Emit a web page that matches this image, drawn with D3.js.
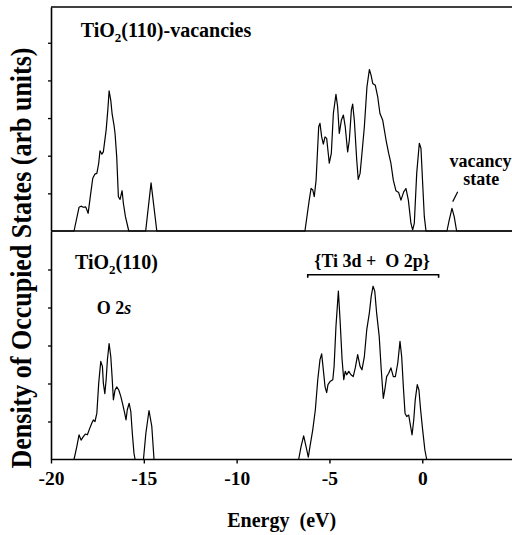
<!DOCTYPE html>
<html>
<head>
<meta charset="utf-8">
<script src="https://cdn.jsdelivr.net/npm/d3@7"></script>
<style>
  body { margin: 0; background: #fff; }
  svg { display: block; font-family: "Liberation Serif", "Times New Roman", serif; font-weight: bold; }
</style>
</head>
<body>
<svg id="dos" width="512" height="535"></svg>
<script>
// energy ticks along the bottom
const xTicks = [-20, -15, -10, -5, 0];

// TiO2(110) with vacancies (top panel), energy in eV / DOS in tick units
const topEnergy = [-20, -18.76, -18.49, -18.38, -18.26, -18.13, -18.00, -17.86, -17.75, -17.64, -17.53, -17.43, -17.36, -17.26, -17.18, -17.03, -16.94, -16.87, -16.78, -16.71, -16.60, -16.55, -16.46, -16.37, -16.28, -16.17, -16.10, -15.99, -15.81,
  -14.90, -14.61, -14.30,
  -6.32, -6.09, -5.99, -5.90, -5.82, -5.72, -5.58, -5.51, -5.42, -5.33, -5.24, -5.15, -5.01, -4.90, -4.79, -4.65, -4.56, -4.47, -4.36, -4.25, -4.15, -4.02, -3.93, -3.82, -3.75, -3.66, -3.53, -3.45, -3.35, -3.25, -3.12, -2.98, -2.85, -2.76, -2.67, -2.53, -2.40, -2.28, -2.13, -1.95, -1.81, -1.69, -1.56, -1.42, -1.27, -1.15, -1.00, -0.88, -0.75, -0.61, -0.52, -0.43, -0.30, -0.16, -0.07, 0.02, 0.11, 0.20,
  1.33, 1.45, 1.60, 1.72, 1.85, 5];
const topDos = [0, 0, 0.63, 0.66, 0.63, 0.64, 0.47, 1.00, 1.40, 1.51, 1.53, 1.80, 2.13, 2.04, 2.10, 2.68, 3.21, 3.72, 3.47, 3.12, 2.79, 2.59, 1.97, 0.91, 0.84, 1.07, 0.73, 0.38, 0,
  0, 1.28, 0,
  0, 0.82, 1.13, 1.09, 0.91, 1.35, 2.77, 2.86, 2.50, 2.31, 2.50, 2.46, 1.80, 2.06, 3.12, 3.63, 3.30, 2.59, 2.94, 3.08, 2.77, 2.10, 2.41, 3.21, 3.37, 2.94, 1.88, 1.37, 1.53, 2.06, 2.77, 3.83, 4.29, 4.14, 3.92, 3.87, 3.56, 3.12, 2.94, 2.41, 2.06, 1.80, 1.35, 1.07, 1.02, 0.82, 1.04, 1.13, 0.82, 0.20, 0.03, 0.20, 1.53, 2.33, 2.19, 1.27, 0.38, 0,
  0, 0.29, 0.60, 0.38, 0, 0];

// perfect TiO2(110) (bottom panel)
const bottomEnergy = [-20, -18.76, -18.61, -18.49, -18.38, -18.26, -18.15, -18.04, -17.93, -17.80, -17.72, -17.63, -17.53, -17.43, -17.32, -17.23, -17.18, -17.10, -17.03, -16.96, -16.87, -16.78, -16.71, -16.64, -16.55, -16.46, -16.35, -16.24, -16.13, -16.03, -15.96, -15.89, -15.79, -15.70, -15.62, -15.53, -15.47,
  -15.02, -14.89, -14.72, -14.57, -14.45,
  -6.66, -6.53, -6.39, -6.26, -6.14, -6.05, -5.90, -5.76, -5.63, -5.51, -5.42, -5.33, -5.24, -5.15, -5.08, -4.97, -4.82, -4.75, -4.65, -4.52, -4.43, -4.32, -4.23, -4.15, -4.07, -3.96, -3.84, -3.72, -3.61, -3.48, -3.35, -3.25, -3.12, -2.99, -2.85, -2.75, -2.65, -2.56, -2.46, -2.32, -2.21, -2.10, -2.02, -1.92, -1.81, -1.69, -1.56, -1.45, -1.32, -1.20, -1.11, -1.02, -0.93, -0.84, -0.73, -0.66, -0.55, -0.46, -0.38, -0.27, -0.18, -0.09, 0.02, 0.14, 0.24, 5];
const bottomDos = [0, 0, 0.34, 0.65, 0.51, 0.60, 0.67, 0.65, 0.80, 0.96, 1.04, 1.00, 1.22, 2.01, 2.58, 2.45, 2.01, 1.73, 2.10, 2.63, 3.05, 2.71, 2.18, 1.57, 1.83, 1.91, 1.83, 1.66, 1.44, 1.22, 1.04, 1.31, 1.48, 1.26, 0.69, 0.16, 0,
  0, 0.69, 1.29, 0.87, 0,
  0, 0.34, 0.62, 0.34, 0.06, 0.34, 0.78, 1.31, 2.10, 2.63, 2.78, 2.36, 1.92, 1.76, 1.97, 2.05, 2.10, 2.45, 3.50, 4.43, 3.68, 2.63, 2.10, 2.32, 2.23, 2.32, 2.23, 2.18, 2.41, 2.76, 2.45, 2.36, 2.71, 3.42, 3.86, 4.30, 4.56, 4.43, 3.86, 3.24, 2.36, 1.61, 1.83, 2.18, 2.27, 2.41, 2.18, 2.18, 2.54, 3.11, 2.71, 1.92, 1.22, 1.13, 1.17, 0.96, 0.65, 1.04, 1.57, 1.97, 1.83, 1.31, 0.78, 0.25, 0, 0];

// {Ti 3d + O 2p} bracket span (eV) and its height in the bottom panel
const bandSpan = [-6.17, 0.88];
const bandLevel = 4.86;
// vacancy pointer, from label to peak (eV, DOS)
const pointerEnergy = [1.91, 1.64];
const pointerDos = [1.04, 0.78];

const svg = d3.select("#dos");

const x = d3.scaleLinear().domain([-20, 5]).range([51, 515.1]);
const yTop = d3.scaleLinear().domain([0, 5.95]).range([231, 7]);
const yBottom = d3.scaleLinear().domain([0, 6]).range([459.5, 231.5]);

// frame lines: top border, divider, x axis
[yTop(5.95), yTop(0), yBottom(0)].forEach(yy => {
    svg.append("line")
        .attr("x1", x(-20)).attr("x2", 512)
        .attr("y1", yy).attr("y2", yy)
        .attr("stroke", "#000").attr("stroke-width", 1.6);
});

// left axis with short outward ticks for each panel
[yTop, yBottom].forEach(y => {
    const g = svg.append("g")
        .attr("transform", `translate(${x(-20)},0)`)
        .call(d3.axisLeft(y).tickValues([1, 2, 3, 4, 5]).tickSize(3).tickSizeOuter(0).tickFormat(""));
    g.select(".domain").attr("stroke-width", 1.6);
    g.selectAll(".tick line").attr("stroke-width", 1.3);
});

// bottom energy axis
const xAxis = svg.append("g")
    .attr("transform", `translate(0,${yBottom(0)})`)
    .call(d3.axisBottom(x).tickValues(xTicks).tickSize(4).tickPadding(8).tickFormat(d => String(d)));
xAxis.select(".domain").remove();
xAxis.selectAll(".tick line").attr("stroke-width", 1.4);
xAxis.selectAll(".tick text")
    .attr("font-size", 19.5)
    .attr("font-family", "Liberation Serif")
    .attr("font-weight", "bold")
    .attr("fill", "#000");

// the two DOS curves
const lineTop = d3.line().x(d => x(d[0])).y(d => yTop(d[1]));
const lineBottom = d3.line().x(d => x(d[0])).y(d => yBottom(d[1]));

svg.append("path")
    .datum(d3.zip(topEnergy, topDos))
    .attr("d", lineTop)
    .attr("fill", "none").attr("stroke", "#000").attr("stroke-width", 1.2)
    .attr("stroke-linejoin", "round");

svg.append("path")
    .datum(d3.zip(bottomEnergy, bottomDos))
    .attr("d", lineBottom)
    .attr("fill", "none").attr("stroke", "#000").attr("stroke-width", 1.2)
    .attr("stroke-linejoin", "round");

// bracket over the valence band
const by = yBottom(bandLevel);
svg.append("path")
    .attr("d", `M${x(bandSpan[0])},${by + 3}V${by}H${x(bandSpan[1])}V${by + 3}`)
    .attr("fill", "none").attr("stroke", "#000").attr("stroke-width", 1.6);

// pointer to the vacancy state
svg.append("line")
    .attr("x1", x(pointerEnergy[0])).attr("y1", yTop(pointerDos[0]))
    .attr("x2", x(pointerEnergy[1])).attr("y2", yTop(pointerDos[1]))
    .attr("stroke", "#000").attr("stroke-width", 1.2);

// text helper, sy stretches glyphs like the scanned figure
function label(px, py, size, parts, anchor = "start", sy = 1, rot = 0) {
    const t = svg.append("text")
        .attr("transform", `translate(${px},${py}) rotate(${rot}) scale(1,${sy})`)
        .attr("font-size", size)
        .attr("text-anchor", anchor)
        .style("white-space", "pre");
    parts.forEach(p => {
        const s = t.append("tspan").text(p.t);
        if (p.sub) s.attr("font-size", size * 0.65).attr("dy", size * 0.25);
        if (p.up) s.attr("dy", -size * 0.25);
        if (p.it) s.attr("font-style", "italic");
    });
    return t;
}

label(80.7, 36.5, 20, [{t: "TiO"}, {t: "2", sub: true}, {t: "(110)-vacancies", up: true}]);
label(75, 268.5, 20, [{t: "TiO"}, {t: "2", sub: true}, {t: "(110)", up: true}]);
label(96.7, 314, 18, [{t: "O 2"}, {t: "s", it: true}]);
label(314.3, 266.7, 18, [{t: "{Ti 3d +  O 2p}"}]);
label(480.5, 166.7, 18, [{t: "vacancy"}], "middle");
label(481.3, 185, 18, [{t: "state"}], "middle");
label(281.7, 526.7, 20, [{t: "Energy  (eV)"}], "middle");
label(30.5, 258, 26, [{t: "Density of Occupied States (arb units)"}], "middle", 1.1, -90);
</script>
</body>
</html>
